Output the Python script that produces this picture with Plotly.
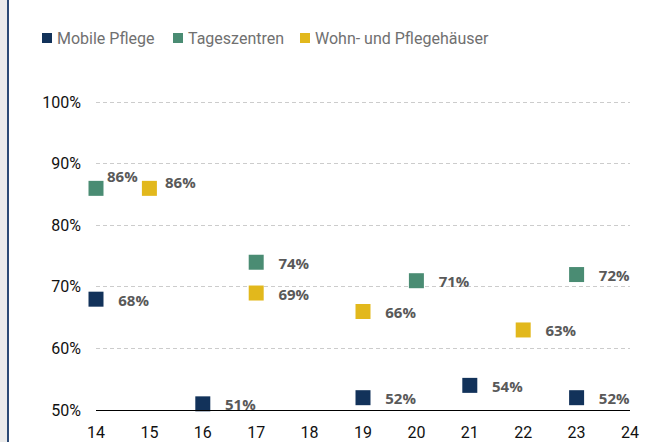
import plotly.graph_objects as go

series_names = ["Mobile Pflege", "Tageszentren", "Wohn- und Pflegehäuser"]
series_colors = ["#12325a", "#4a8c73", "#e2b81c"]

mobile_x = [14, 16, 19, 21, 23]
mobile_y = [68, 51, 52, 54, 52]
tages_x = [14, 17, 20, 23]
tages_y = [86, 74, 71, 72]
wohn_x = [15, 17, 19, 22]
wohn_y = [86, 69, 66, 63]

y_ticks = [50, 60, 70, 80, 90, 100]
x_ticks = list(range(14, 25))

# layout in pixels
W, H = 660, 442
ML, MR, MT, MB = 96, 30, 96, 32
PW, PH = W - ML - MR, H - MT - MB
Y_RANGE = [50, 101]
LABEL_DROP = 0.45  # label axis offset (value units) to nudge labels slightly down

def px_x(X):
    return (X - ML) / PW

def px_y(Y):
    return (H - MB - Y) / PH

label_font = dict(family="Open Sans", size=15, color="#595959", weight="bold")
# labels placed differently (pixel offsets) to avoid overlaps
special = {("Tageszentren", 14): (9, 12), ("Wohn- und Pflegehäuser", 15): (14, 6)}

fig = go.Figure()
annotations = []
data = [(mobile_x, mobile_y), (tages_x, tages_y), (wohn_x, wohn_y)]
for (xs, ys), name, col in zip(data, series_names, series_colors):
    fig.add_trace(go.Scatter(
        x=xs, y=ys, mode="markers", name=name, showlegend=False,
        marker=dict(symbol="square", size=15, color=col, line=dict(width=0)),
        cliponaxis=False, hoverinfo="skip",
    ))
    texts = []
    for xv, yv in zip(xs, ys):
        if (name, xv) in special:
            dx, dy = special[(name, xv)]
            texts.append("")
            annotations.append(dict(
                x=xv, y=yv, xref="x", yref="y", text=f"{yv}%", showarrow=False,
                xanchor="left", yanchor="middle", xshift=dx, yshift=dy,
                font=label_font,
            ))
        else:
            texts.append(f"{yv}%")
    fig.add_trace(go.Scatter(
        x=xs, y=ys, mode="markers+text", text=texts, textposition="middle right",
        textfont=label_font, showlegend=False, hoverinfo="skip",
        marker=dict(size=34, opacity=0, color=col),
        cliponaxis=True, yaxis="y2",
    ))

# custom legend
legend_sq_x = [42, 173, 300]
legend_txt_x = [55, 186, 313]
shapes = []
for sx, tx, name, col in zip(legend_sq_x, legend_txt_x, series_names, series_colors):
    shapes.append(dict(type="rect", xref="paper", yref="paper",
                       x0=px_x(sx), x1=px_x(sx + 10), y0=px_y(43), y1=px_y(33),
                       fillcolor=col, line=dict(width=0), layer="above"))
    annotations.append(dict(
        x=px_x(tx), y=px_y(38), xref="paper", yref="paper", text=name,
        showarrow=False, xanchor="left", yanchor="middle",
        font=dict(family="Roboto", size=16, color="#707070"),
    ))

# left page decoration: gray strip and blue line
shapes.append(dict(type="rect", xref="paper", yref="paper",
                   x0=px_x(0), x1=px_x(7), y0=px_y(H), y1=px_y(0),
                   fillcolor="#ebebeb", line=dict(width=0), layer="below"))
shapes.append(dict(type="rect", xref="paper", yref="paper",
                   x0=px_x(7), x1=px_x(9), y0=px_y(H), y1=px_y(0),
                   fillcolor="#2c4a75", line=dict(width=0), layer="below"))

fig.update_layout(
    width=W, height=H,
    margin=dict(l=ML, r=MR, t=MT, b=MB, autoexpand=False),
    paper_bgcolor="white", plot_bgcolor="white",
    showlegend=False,
    annotations=annotations, shapes=shapes,
    xaxis=dict(range=[14, 24], tickvals=x_ticks, showgrid=False, zeroline=False,
               showline=True, linecolor="#000000", linewidth=1, automargin=False,
               tickfont=dict(family="Roboto", size=16, color="#111111"),
               ticklabelstandoff=8),
    yaxis=dict(range=Y_RANGE, tickvals=y_ticks,
               ticktext=[f"{v}%" for v in y_ticks],
               showgrid=True, gridcolor="#cccccc", griddash="4px,3px", gridwidth=1,
               zeroline=False, showline=False, automargin=False,
               tickfont=dict(family="Roboto", size=16, color="#111111"),
               ticklabelstandoff=14),
    yaxis2=dict(overlaying="y", range=[Y_RANGE[0] + LABEL_DROP, Y_RANGE[1] + LABEL_DROP],
                visible=False, showgrid=False, zeroline=False, automargin=False),
)

fig.write_html("out.html", config={"displayModeBar": False},
               post_script="document.body.style.margin='0';document.body.style.overflow='hidden';")
